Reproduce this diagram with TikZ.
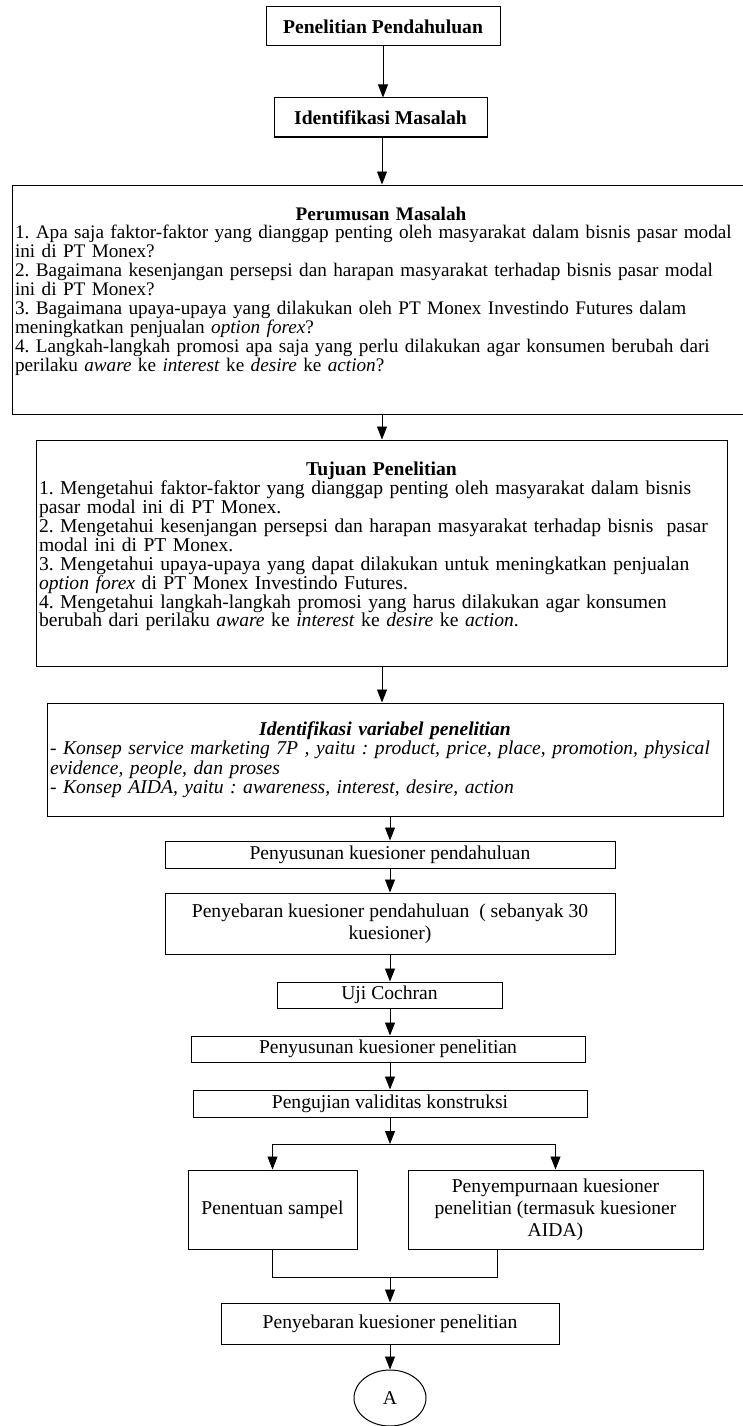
\documentclass[tikz,border=0pt]{standalone}
\usepackage{fontspec}
\setmainfont{Liberation Serif}
\usetikzlibrary{arrows.meta, shapes.geometric, calc}
\frenchspacing

\begin{document}
\begin{tikzpicture}[x=1pt, y=-1pt,
  every node/.style={font=\fontsize{19.6}{22}\selectfont},
  arr/.style={-{Triangle[length=13pt, width=10pt]}, line width=0.9pt},
  link/.style={line width=0.9pt},
  box/.style={draw, line width=1pt, align=center, inner sep=2pt, minimum width=#1},
  txtbox/.style={draw, line width=1pt, align=left, inner xsep=3pt, text width=#1,
    font=\fontsize{19.6}{18.9}\selectfont},
  headbox/.style={box=#1, minimum height=39pt, font=\fontsize{19.6}{22}\selectfont\bfseries}
]
  \useasboundingbox (0,0) rectangle (742,1426);
  \coordinate (ax) at (382,0);
  \coordinate (ax2) at (390,0);

  % Top boxes
  \node[headbox=234pt] (pp) at (383,26.5) {Penelitian Pendahuluan};
  \node[headbox=213pt] (im) at (380.5,117.5) {Identifikasi Masalah};

  % Perumusan masalah
  \node[txtbox=740pt, minimum height=229pt, font=\fontsize{19.2}{18.9}\selectfont] (pm) at (385,299.5) {%
    \makebox[732pt]{\textbf{Perumusan Masalah}}\\
    1. Apa saja faktor-faktor yang dianggap penting oleh masyarakat dalam bisnis pasar modal\\
    ini di PT Monex?\\
    2. Bagaimana kesenjangan persepsi dan harapan masyarakat terhadap bisnis pasar modal\\
    ini di PT Monex?\\
    3. Bagaimana upaya-upaya yang dilakukan oleh PT Monex Investindo Futures dalam\\
    meningkatkan penjualan \textit{option forex}?\\
    4. Langkah-langkah promosi apa saja yang perlu dilakukan agar konsumen berubah dari\\
    perilaku \textit{aware} ke \textit{interest} ke \textit{desire} ke \textit{action}?\rule[-21pt]{0pt}{21pt}};

  % Tujuan penelitian
  \node[txtbox=685pt, minimum height=226pt] (tp) at (381.5,553) {%
    \makebox[\linewidth]{\textbf{Tujuan Penelitian}}\\
    1. Mengetahui faktor-faktor yang dianggap penting oleh masyarakat dalam bisnis\\
    pasar modal ini di PT Monex.\\
    2. Mengetahui kesenjangan persepsi dan harapan masyarakat terhadap bisnis\ \ pasar\\
    modal ini di PT Monex.\\
    3. Mengetahui upaya-upaya yang dapat dilakukan untuk meningkatkan penjualan\\
    \textit{option forex} di PT Monex Investindo Futures.\\
    4. Mengetahui langkah-langkah promosi yang harus dilakukan agar konsumen\\
    berubah dari perilaku \textit{aware} ke \textit{interest} ke \textit{desire} ke \textit{action}.\rule[-17pt]{0pt}{17pt}};

  % Identifikasi variabel
  \node[txtbox=670pt, minimum height=113pt, font=\fontsize{19.6}{19.5}\selectfont\itshape] (iv) at (385,759.5) {%
    \makebox[\linewidth]{\textbf{Identifikasi variabel penelitian}}\\
    - Konsep service marketing 7P , yaitu : product, price, place, promotion, physical\\
    evidence, people, dan proses\\
    - Konsep AIDA, yaitu : awareness, interest, desire, action};

  % Kuesioner
  \node[box=450pt, minimum height=27pt] (kp) at (390,854.5) {Penyusunan kuesioner pendahuluan};
  \node[box=450pt, minimum height=61pt] (sp) at (390,923.5) {Penyebaran kuesioner pendahuluan\ \ ( sebanyak 30\\ kuesioner)};
  \node[box=225pt, minimum height=26pt] (uc) at (389.5,995) {Uji Cochran};
  \node[box=394pt, minimum height=26pt] (kn) at (388,1049) {Penyusunan kuesioner penelitian};
  \node[box=394pt, minimum height=27pt] (pv) at (390,1103.5) {Pengujian validitas konstruksi};

  % Cabang
  \coordinate (split) at (390,1144);
  \node[box=169pt, minimum height=79pt] (ps) at (272.5,1209.5) {Penentuan sampel};
  \node[box=295pt, minimum height=79pt] (pk) at (555.5,1209.5) {Penyempurnaan kuesioner\\ penelitian (termasuk kuesioner\\ AIDA)};
  \coordinate (merge) at (390,1277);
  \coordinate (mr) at (497,1277);

  \node[box=338pt, minimum height=41pt] (pq) at (390,1323.5) {Penyebaran kuesioner penelitian};
  \node[draw, ellipse, line width=1pt, minimum width=72pt, minimum height=56pt] (ca) at (390,1398) {A};

  % Arrows
  \draw[arr] (pp) -- (pp |- im.north);
  \draw[arr] (im.south -| ax) -- (pm.north -| ax);
  \draw[arr] (pm.south -| ax) -- (tp.north -| ax);
  \draw[arr] (tp.south -| ax) -- (iv.north -| ax);
  \draw[arr] (iv.south -| kp) -- (kp);
  \draw[arr] (kp) -- (sp);
  \draw[arr] (sp) -- (sp |- uc.north);
  \draw[arr] (uc.south -| ax2) -- (kn.north -| ax2);
  \draw[arr] (kn.south -| ax2) -- (pv.north -| ax2);
  \draw[arr] (pv) -- (split);
  \draw[arr] (split) -| (ps);
  \draw[arr] (split) -| (pk);
  \draw[link] (ps) |- (merge);
  \draw[link] (mr |- pk.south) -- (mr) -- (merge);
  \draw[arr] (merge) -- (pq);
  \draw[arr] (pq) -- (ca);
\end{tikzpicture}
\end{document}
